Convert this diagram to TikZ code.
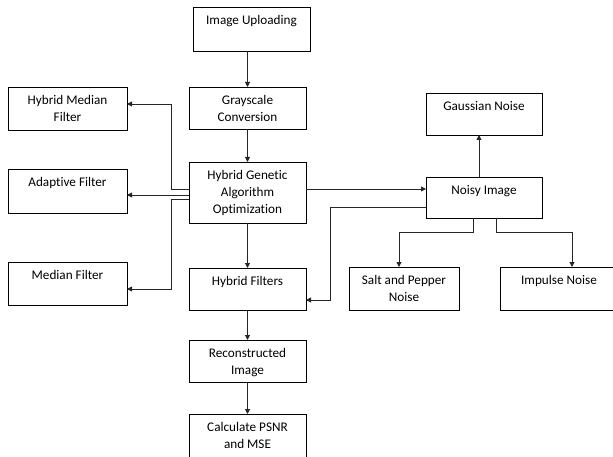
\documentclass[tikz,border=0pt]{standalone}
\usepackage{fontspec}
\setmainfont{Carlito}[Ligatures=NoCommon]
\usetikzlibrary{arrows.meta}
\newcommand{\bxt}[3]{\parbox[c][#2][t]{#1}{\fontsize{13.2pt}{17pt}\selectfont\centering\rule{0pt}{17.5pt}#3}}
\begin{document}
\begin{tikzpicture}[x=1pt,y=-1pt,
  box/.style={draw=black,line width=0.9pt,rectangle,inner sep=0pt,outer sep=0pt},
  arr/.style={draw=black!85,line width=0.9pt,-{Triangle[length=5pt,width=5pt]}},
  ln/.style={draw=black!85,line width=0.9pt}]
\useasboundingbox (0,0) rectangle (613,457);
\clip (0,0) rectangle (613,457);
\fill[white] (0,0) rectangle (613,457);
% central column
\node[box] (iu) at (251.5,29) {\bxt{117pt}{44pt}{Image Uploading}};
\node[box] (gc) at (247.5,108) {\bxt{117pt}{42pt}{Grayscale\\Conversion}};
\node[box] (hga) at (247.5,192.5) {\bxt{117pt}{61pt}{Hybrid Genetic\\Algorithm\\Optimization}};
\node[box] (hf) at (247.5,289) {\bxt{117pt}{42pt}{Hybrid Filters}};
\node[box] (rec) at (247.5,361) {\bxt{117pt}{42pt}{Reconstructed\\Image}};
\node[box] (calc) at (247.5,442) {\bxt{117pt}{56pt}{Calculate PSNR\\and MSE}};
% left column
\node[box] (hmf) at (67.5,108.5) {\bxt{119pt}{43pt}{Hybrid Median\\Filter}};
\node[box] (af) at (67.5,191) {\bxt{119pt}{44pt}{Adaptive Filter}};
\node[box] (mf) at (67.5,283.5) {\bxt{119pt}{43pt}{Median Filter}};
% right side
\node[box] (gn) at (484,114) {\bxt{116pt}{42pt}{Gaussian Noise}};
\node[box] (ni) at (484,197.5) {\bxt{116pt}{41pt}{Noisy Image}};
\node[box] (sp) at (404,288.5) {\bxt{110pt}{43pt}{Salt and Pepper\\Noise}};
\node[box] (imp) at (559,288.5) {\bxt{118pt}{43pt}{Impulse Noise}};
% helper coordinates
\coordinate (hgaW1) at ([yshift=3.5pt]hga.west);
\coordinate (hgaW2) at ([yshift=-2.5pt]hga.west);
\coordinate (hgaW3) at ([yshift=-6.5pt]hga.west);
\coordinate (hgaE) at ([yshift=3.5pt]hga.east);
\coordinate (niW) at ([yshift=-9.5pt]ni.west);
% vertical chain
\draw[arr] (gc.north |- iu.south) -- (gc.north);
\draw[arr] (gc.south) -- (hga.north);
\draw[arr] (hga.south) -- (hf.north);
\draw[arr] (hf.south) -- (rec.north);
\draw[arr] (rec.south) -- (calc.north);
% to filters
\draw[arr] (hgaW1) -- ++(-18,0) |- ([yshift=4.5pt]hmf.east);
\draw[arr] (hgaW2) -- (hgaW2 -| af.east);
\draw[arr] (hgaW3) -- ++(-18,0) |- ([yshift=-5.5pt]mf.east);
% to noisy image
\draw[arr] (hgaE) -- (hgaE -| ni.west);
\draw[arr] ([xshift=-5pt]ni.north) -- ([xshift=-5pt]gn.south);
\draw[arr] (niW) -- ++(-96,0) |- ([yshift=-11pt]hf.east);
\draw[arr] ([xshift=-11pt]ni.south) -- ++(0,14) -| ([xshift=-5pt]sp.north);
\draw[arr] ([xshift=12pt]ni.south) -- ++(0,14) -| ([xshift=13pt]imp.north);
\end{tikzpicture}
\end{document}
